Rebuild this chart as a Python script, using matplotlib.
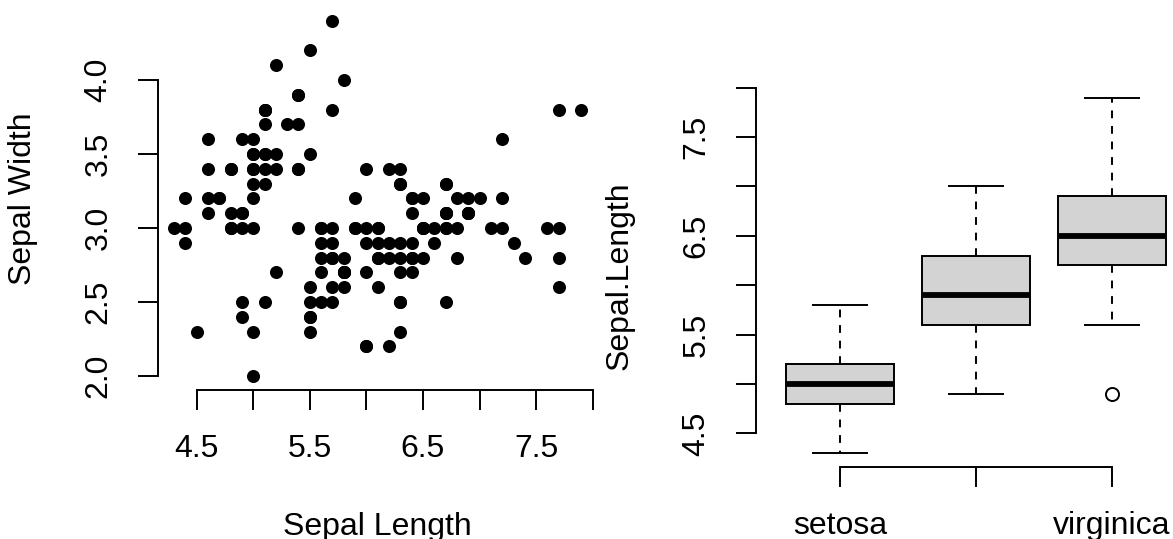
import matplotlib.pyplot as plt

plt.rcParams['font.family'] = ['Liberation Sans', 'DejaVu Sans']

# iris: sepal length / width (150 flowers)
sepal_length = [
    5.1, 4.9, 4.7, 4.6, 5.0, 5.4, 4.6, 5.0, 4.4, 4.9, 5.4, 4.8, 4.8, 4.3, 5.8,
    5.7, 5.4, 5.1, 5.7, 5.1, 5.4, 5.1, 4.6, 5.1, 4.8, 5.0, 5.0, 5.2, 5.2, 4.7,
    4.8, 5.4, 5.2, 5.5, 4.9, 5.0, 5.5, 4.9, 4.4, 5.1, 5.0, 4.5, 4.4, 5.0, 5.1,
    4.8, 5.1, 4.6, 5.3, 5.0,
    7.0, 6.4, 6.9, 5.5, 6.5, 5.7, 6.3, 4.9, 6.6, 5.2, 5.0, 5.9, 6.0, 6.1, 5.6,
    6.7, 5.6, 5.8, 6.2, 5.6, 5.9, 6.1, 6.3, 6.1, 6.4, 6.6, 6.8, 6.7, 6.0, 5.7,
    5.5, 5.5, 5.8, 6.0, 5.4, 6.0, 6.7, 6.3, 5.6, 5.5, 5.5, 6.1, 5.8, 5.0, 5.6,
    5.7, 5.7, 6.2, 5.1, 5.7,
    6.3, 5.8, 7.1, 6.3, 6.5, 7.6, 4.9, 7.3, 6.7, 7.2, 6.5, 6.4, 6.8, 5.7, 5.8,
    6.4, 6.5, 7.7, 7.7, 6.0, 6.9, 5.6, 7.7, 6.3, 6.7, 7.2, 6.2, 6.1, 6.4, 7.2,
    7.4, 7.9, 6.4, 6.3, 6.1, 7.7, 6.3, 6.4, 6.0, 6.9, 6.7, 6.9, 5.8, 6.8, 6.7,
    6.7, 6.3, 6.5, 6.2, 5.9,
]
sepal_width = [
    3.5, 3.0, 3.2, 3.1, 3.6, 3.9, 3.4, 3.4, 2.9, 3.1, 3.7, 3.4, 3.0, 3.0, 4.0,
    4.4, 3.9, 3.5, 3.8, 3.8, 3.4, 3.7, 3.6, 3.3, 3.4, 3.0, 3.4, 3.5, 3.4, 3.2,
    3.1, 3.4, 4.1, 4.2, 3.1, 3.2, 3.5, 3.6, 3.0, 3.4, 3.5, 2.3, 3.2, 3.5, 3.8,
    3.0, 3.8, 3.2, 3.7, 3.3,
    3.2, 3.2, 3.1, 2.3, 2.8, 2.8, 3.3, 2.4, 2.9, 2.7, 2.0, 3.0, 2.2, 2.9, 2.9,
    3.1, 3.0, 2.7, 2.2, 2.5, 3.2, 2.8, 2.5, 2.8, 2.9, 3.0, 2.8, 3.0, 2.9, 2.6,
    2.4, 2.4, 2.7, 2.7, 3.0, 3.4, 3.1, 2.3, 3.0, 2.5, 2.6, 3.0, 2.6, 2.3, 2.7,
    3.0, 2.9, 2.9, 2.5, 2.8,
    3.3, 2.7, 3.0, 2.9, 3.0, 3.0, 2.5, 2.9, 2.5, 3.6, 3.2, 2.7, 3.0, 2.5, 2.8,
    3.2, 3.0, 3.8, 2.6, 2.2, 3.2, 2.8, 2.8, 2.7, 3.3, 3.2, 2.8, 3.0, 2.8, 3.0,
    2.8, 3.8, 2.8, 2.8, 2.6, 3.0, 3.4, 3.1, 3.0, 3.1, 3.1, 3.1, 2.7, 3.2, 3.3,
    3.0, 2.5, 3.0, 3.4, 3.0,
]

# boxplot summary of Sepal.Length by species
species = ["setosa", "versicolor", "virginica"]
species_labels = ["setosa", "", "virginica"]
whisker_low = [4.3, 4.9, 5.6]
q1 = [4.8, 5.6, 6.2]
median = [5.0, 5.9, 6.5]
q3 = [5.2, 6.3, 6.9]
whisker_high = [5.8, 7.0, 7.9]
outliers = [[], [], [4.9]]

x_ticks = [4.5, 5.0, 5.5, 6.0, 6.5, 7.0, 7.5, 8.0]
x_tick_labels = ["4.5", "", "5.5", "", "6.5", "", "7.5", ""]
y_ticks = [2.0, 2.5, 3.0, 3.5, 4.0]
y_tick_labels = ["2.0", "2.5", "3.0", "3.5", "4.0"]
box_y_ticks = [4.5, 5.0, 5.5, 6.0, 6.5, 7.0, 7.5, 8.0]
box_y_tick_labels = ["4.5", "", "5.5", "", "6.5", "", "7.5", ""]

W, H = 1173, 539
PX = 72 / 100        # points per pixel
LW = 1.4             # R lwd=1 at this scale
FS = 23


def r_range(vals):
    # R's default 4% axis extension
    lo, hi = min(vals), max(vals)
    pad = 0.04 * (hi - lo)
    return lo - pad, hi + pad


def px_axes(left, top, right, bottom):
    return fig.add_axes([left / W, 1 - bottom / H, (right - left) / W, (bottom - top) / H])


def r_style(ax):
    ax.spines['top'].set_visible(False)
    ax.spines['right'].set_visible(False)
    for s in ['left', 'bottom']:
        ax.spines[s].set_linewidth(LW)
    ax.tick_params(direction='out', length=20 * PX, width=LW, labelsize=FS, pad=39 * PX)


fig = plt.figure(figsize=(W / 100, H / 100), dpi=100)

# left panel: scatter
ax1 = px_axes(157.7, 6.6, 597.7, 390.2)
ax1.plot(sepal_length, sepal_width, 'o', color='black', ms=9.4, mew=0)
ax1.set_xlim(r_range(sepal_length))
ax1.set_ylim(r_range(sepal_width))
r_style(ax1)
ax1.set_xticks(x_ticks, x_tick_labels, va='center')
ax1.set_yticks(y_ticks, y_tick_labels, rotation=90, va='center', ha='center')
ax1.spines['bottom'].set_bounds(x_ticks[0], x_ticks[-1])
ax1.spines['left'].set_bounds(y_ticks[0], y_ticks[-1])
ax1.annotate("Sepal Length", xy=(0.5, 0), xycoords='axes fraction',
             xytext=(0, -137 * PX), textcoords='offset points',
             ha='center', va='center', fontsize=FS)
ax1.annotate("Sepal Width", xy=(0, 0.5), xycoords='axes fraction',
             xytext=(-135 * PX, 0), textcoords='offset points',
             ha='center', va='center', rotation=90, fontsize=FS)

# right panel: boxplot
ax2 = px_axes(755.7, 83.4, 1196.4, 467.3)
stats = []
for i in range(len(species)):
    stats.append(dict(label=species[i], whislo=whisker_low[i], q1=q1[i], med=median[i],
                      q3=q3[i], whishi=whisker_high[i], fliers=outliers[i]))
ax2.bxp(stats, positions=[1, 2, 3], widths=0.8, capwidths=0.4, patch_artist=True,
        manage_ticks=False,
        boxprops=dict(facecolor='#D3D3D3', edgecolor='black', linewidth=LW),
        medianprops=dict(color='black', linewidth=3 * LW, solid_capstyle='butt'),
        whiskerprops=dict(color='black', linewidth=LW, linestyle=(0, (4, 4))),
        capprops=dict(color='black', linewidth=LW),
        flierprops=dict(marker='o', markerfacecolor='none', markeredgecolor='black',
                        markersize=9.4, markeredgewidth=LW))
ax2.set_xlim(r_range([0.5, 3.5]))
all_vals = whisker_low + whisker_high + [v for o in outliers for v in o]
ax2.set_ylim(r_range(all_vals))
r_style(ax2)
ax2.set_xticks([1, 2, 3], species_labels, va='center')
ax2.set_yticks(box_y_ticks, box_y_tick_labels, rotation=90, va='center', ha='center')
ax2.spines['bottom'].set_bounds(1, 3)
ax2.spines['left'].set_bounds(box_y_ticks[0], box_y_ticks[-1])
ax2.annotate("Sepal.Length", xy=(0, 0.5), xycoords='axes fraction',
             xytext=(-136 * PX, 0), textcoords='offset points',
             ha='center', va='center', rotation=90, fontsize=FS)

plt.savefig("out.png", dpi=100)
